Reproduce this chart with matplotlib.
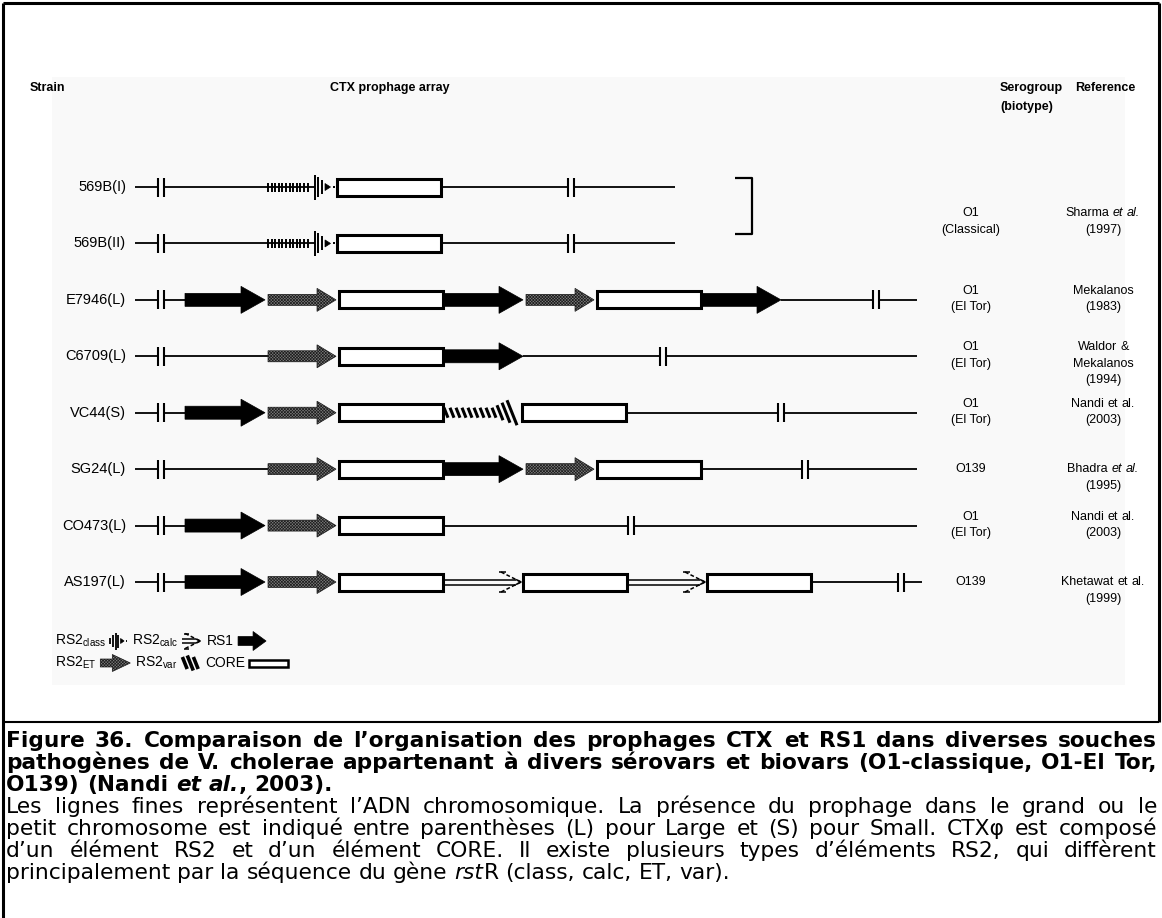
import matplotlib
matplotlib.use('Agg')
import matplotlib.pyplot as plt
from matplotlib.patches import Polygon, Rectangle

plt.rcParams['hatch.linewidth'] = 0.5
plt.rcParams['mathtext.fontset'] = 'custom'
plt.rcParams['mathtext.rm'] = 'Liberation Sans'
plt.rcParams['mathtext.it'] = 'Liberation Sans:italic'
plt.rcParams['mathtext.bf'] = 'Liberation Sans:bold'

HELV = ['Liberation Sans', 'DejaVu Sans']
WIDE = ['DejaVu Sans']

# strains and their CTX prophage arrays ('-' = empty slot, plain chromosome)
strains = ['569B(I)', '569B(II)', 'E7946(L)', 'C6709(L)', 'VC44(S)', 'SG24(L)', 'CO473(L)', 'AS197(L)']
arrays = [
    ['-', 'RS2class', 'CORE'],
    ['-', 'RS2class', 'CORE'],
    ['RS1', 'RS2ET', 'CORE', 'RS1', 'RS2ET', 'CORE', 'RS1'],
    ['-', 'RS2ET', 'CORE', 'RS1'],
    ['RS1', 'RS2ET', 'CORE', 'RS2var', 'CORE'],
    ['-', 'RS2ET', 'CORE', 'RS1', 'RS2ET', 'CORE'],
    ['RS1', 'RS2ET', 'CORE'],
    ['RS1', 'RS2ET', 'CORE', 'RS2calc', 'CORE', 'RS2calc', 'CORE'],
]
elem_len = {'-': 83, 'RS1': 83, 'RS2ET': 71, 'RS2class': 69, 'RS2var': 79, 'RS2calc': 80, 'CORE': 104}
right_break = [568, 568, 873, 660, 778, 802, 628, 898]
chrom_end = [675, 675, 917, 917, 917, 917, 917, 922]

span = [2, 0, 1, 1, 1, 1, 1, 1]
serogroup = ['O1\n(Classical)', None, 'O1\n(El Tor)', 'O1\n(El Tor)', 'O1\n(El Tor)',
             'O139', 'O1\n(El Tor)', 'O139']
references = [
    [[('Sharma ', 'n'), ('et al.', 'i')], [('(1997)', 'n')]],
    None,
    [[('Mekalanos', 'n')], [('(1983)', 'n')]],
    [[('Waldor &', 'n')], [('Mekalanos', 'n')], [('(1994)', 'n')]],
    [[('Nandi et al.', 'n')], [('(2003)', 'n')]],
    [[('Bhadra ', 'n'), ('et al.', 'i')], [('(1995)', 'n')]],
    [[('Nandi et al.', 'n')], [('(2003)', 'n')]],
    [[('Khetawat et al.', 'n')], [('(1999)', 'n')]],
]

legend_rows = [
    [('RS2', 'class', 'RS2class'), ('RS2', 'calc', 'RS2calc'), ('RS1', None, 'RS1')],
    [('RS2', 'ET', 'RS2ET'), ('RS2', 'var', 'RS2var'), ('CORE', None, 'CORE')],
]

caption = [
    ([('Figure 36. Comparaison de l’organisation des prophages CTX et RS1 dans diverses souches', 'b')], True),
    ([('pathogènes de V. cholerae appartenant à divers sérovars et biovars (O1-classique, O1-El Tor,', 'b')], True),
    ([('O139) (Nandi ', 'b'), ('et al.', 'bi'), (', 2003).', 'b')], False),
    ([('Les lignes fines représentent l’ADN chromosomique. La présence du prophage dans le grand ou le', 'n')], True),
    ([('petit chromosome est indiqué entre parenthèses (L) pour Large et (S) pour Small. CTXφ est composé', 'n')], True),
    ([('d’un élément RS2 et d’un élément CORE. Il existe plusieurs types d’éléments RS2, qui diffèrent', 'n')], True),
    ([('principalement par la séquence du gène ', 'n'), ('rst', 'i'), ('R (class, calc, ET, var).', 'n')], False),
]

STY = {'n': dict(fontweight='normal', fontstyle='normal'),
       'b': dict(fontweight='bold', fontstyle='normal'),
       'i': dict(fontweight='normal', fontstyle='italic'),
       'bi': dict(fontweight='bold', fontstyle='italic')}

fig = plt.figure(figsize=(11.62, 9.18), dpi=100)
ax = fig.add_axes([0, 0, 1, 1])
ax.set_xlim(0, 1162)
ax.set_ylim(918, 0)
ax.axis('off')
rend = fig.canvas.get_renderer()


def seg(xs, ys, lw=1.3, z=2, **kw):
    ax.plot(xs, ys, color='k', lw=lw, solid_capstyle='butt', zorder=z, **kw)


def measure(s, size, fam, sty):
    t = ax.text(0, 0, s, fontsize=size, family=fam, **STY[sty])
    w = t.get_window_extent(renderer=rend).width
    t.remove()
    return w


def to_words(segments):
    words = [[]]
    for text, sty in segments:
        for k, p in enumerate(text.split(' ')):
            if k > 0:
                words.append([])
            if p:
                words[-1].append((p, sty))
    return [w for w in words if w]


def space_w(size, fam, sty):
    return measure('a a', size, fam, sty) - measure('aa', size, fam, sty)


def natural(segments, size, fam):
    words = to_words(segments)
    tot = sum(measure(p, size, fam, s) for w in words for p, s in w)
    return tot + space_w(size, fam, segments[0][1]) * (len(words) - 1)


def put_line(segments, x, y, size, fam, mode='left', x_right=None, va='center'):
    words = to_words(segments)
    widths = [[measure(p, size, fam, s) for p, s in w] for w in words]
    total = sum(sum(ws) for ws in widths)
    gap = space_w(size, fam, segments[0][1])
    if mode == 'justify' and len(words) > 1:
        gap = (x_right - x - total) / (len(words) - 1)
    if mode == 'center':
        x = x - (total + gap * (len(words) - 1)) / 2
    for w, ws in zip(words, widths):
        for (p, s), pw in zip(w, ws):
            ax.text(x, y, p, fontsize=size, family=fam, va=va, ha='left', **STY[s])
            x += pw
        x += gap


# ---- glyphs ----
def arrow(x0, x1, y, sh, hh, head, **kw):
    xh = x1 - head
    pts = [(x0, y - sh), (xh, y - sh), (xh, y - hh), (x1, y),
           (xh, y + hh), (xh, y + sh), (x0, y + sh)]
    ax.add_patch(Polygon(pts, closed=True, zorder=3, **kw))


ET_STYLE = dict(fc='#7c7c7c', ec='#1e1e1e', lw=0.5, hatch='x' * 11)


def rs1(x0, x1, y):
    arrow(x0, x1 - 3, y, 6.5, 13.5, 24, fc='k', ec='k', lw=0.5)


def rs2et(x0, x1, y):
    arrow(x0, x1 - 3, y, 5.5, 11.5, 19, **ET_STYLE)


def core(x0, x1, y, h=17, lw=2.2):
    ax.add_patch(Rectangle((x0, y - h / 2), x1 - x0, h, fc='white', ec='k', lw=lw, zorder=3))


def rs2class(x0, y, ticks, tri, dot, lw=1.2):
    for dx, h in ticks:
        seg([x0 + dx, x0 + dx], [y - h, y + h], lw=lw, z=3)
    a, b, h = tri
    ax.add_patch(Polygon([(x0 + a, y - h), (x0 + b, y), (x0 + a, y + h)],
                         closed=True, fc='k', ec='k', lw=0.5, zorder=3))
    seg([x0 + dot, x0 + dot + 1.5], [y, y], lw=lw, z=3)


def rs2var(x0, y, hs, step=6, lw=2.2):
    for j, h in enumerate(hs):
        xx = x0 + 3 + j * step
        seg([xx - 0.4 * h, xx + 0.4 * h], [y - h, y + h], lw=lw, z=3)


def rs2calc(x0, x1, y, k=1.0):
    tip = x1 - 2
    d = 2.5 * k
    seg([x0, tip - 5 * k], [y - d, y - d], lw=1.1)
    seg([x0, tip - 5 * k], [y + d, y + d], lw=1.1)
    seg([tip - 5 * k, tip, tip - 5 * k], [y - d, y, y + d], lw=1.1)
    hl = 20 * k
    for s in (-1, 1):
        seg([tip - hl, tip], [y + s * 10 * k, y], lw=1.1, ls=(0, (2.5, 1.5)))
        seg([tip - hl - 2 * k, tip - hl + 5 * k], [y + s * 10 * k, y + s * 10 * k], lw=1.1)


def draw_elem(e, x0, x1, y):
    if e == 'RS1':
        rs1(x0, x1, y)
    elif e == 'RS2ET':
        rs2et(x0, x1, y)
    elif e == 'CORE':
        core(x0, x1, y)
    elif e == 'RS2class':
        seg([x0, x0 + 47], [y, y])
        rs2class(x0, y, [(j * 3.6, 4.5) for j in range(12)] + [(46.5, 12.5), (50, 10), (53.5, 7)],
                 (57, 62.5, 3.5), 65, lw=1.4)
    elif e == 'RS2var':
        rs2var(x0, y, [5] * 9 + [7.5, 10, 12.5])
    elif e == 'RS2calc':
        rs2calc(x0, x1, y)


def hline(xa, xb, y, breaks):
    pts = [xa]
    for b in breaks:
        if xa < b < xb:
            pts += [b, b + 6]
    pts.append(xb)
    for k in range(0, len(pts), 2):
        seg([pts[k], pts[k + 1]], [y, y])


def brk(x, y):
    seg([x, x], [y - 9.5, y + 9.5], lw=1.5, z=3)
    seg([x + 6, x + 6], [y - 9.5, y + 9.5], lw=1.5, z=3)


# ---- frame and background ----
ax.add_patch(Rectangle((52, 77), 1073, 608, fc='#f9f9f9', ec='none', zorder=0))
seg([3, 3], [918, 3], lw=2.2)
seg([3, 1159], [3, 3], lw=2.2)
seg([1159, 1159], [3, 722], lw=2.2)
seg([3, 1159], [722, 722], lw=1.5)

# ---- headers ----
hdr = dict(fontsize=9, fontweight='bold', family=HELV, va='center')
ax.text(30, 88, 'Strain', **hdr)
ax.text(390, 88, 'CTX prophage array', ha='center', **hdr)
ax.text(1000, 88, 'Serogroup', **hdr)
ax.text(1000, 107, '(biotype)', **hdr)
ax.text(1075, 88, 'Reference', **hdr)

# ---- rows ----
x_start, x_flank, x_first = 135, 158, 185
row_step = 56.43
row_y = [187 + i * row_step for i in range(len(strains))]

for i, (name, arr) in enumerate(zip(strains, arrays)):
    y = row_y[i]
    ax.text(126, y, name, fontsize=10.5, family=HELV, ha='right', va='center')
    x = x_first
    first = last = None
    for e in arr:
        L = elem_len[e]
        if e != '-':
            draw_elem(e, x, x + L, y)
            first = x if first is None else first
            last = x + L
        x += L
    breaks = [x_flank, right_break[i]]
    hline(x_start, first, y, breaks)
    hline(last - (3 if arr[-1] == 'RS1' else 0), chrom_end[i], y, breaks)
    for b in breaks:
        brk(b, y)

# bracket for the two 569B copies
seg([735, 752, 752, 735], [row_y[0] - 9, row_y[0] - 9, row_y[1] - 9, row_y[1] - 9], lw=1.6)

# ---- serogroup / reference columns ----
x_sero, x_ref, lh = 971, 1103, 16.5
for i in range(len(strains)):
    if serogroup[i] is None:
        continue
    if span[i] == 2:
        top = (row_y[i] + row_y[i + 1]) / 2 - 2
    else:
        top = row_y[i] if serogroup[i] == 'O139' else row_y[i] - 9
    for k, line in enumerate(serogroup[i].split('\n')):
        ax.text(x_sero, top + k * lh, line, fontsize=9, family=HELV, ha='center', va='center')
    for k, line in enumerate(references[i]):
        put_line(line, x_ref, top + k * lh, 9, HELV, mode='center')

# ---- legend ----
legend_w = {'RS2class': 17, 'RS2calc': 20, 'RS1': 28, 'RS2ET': 30, 'RS2var': 18, 'CORE': 39}
for row, ly in zip(legend_rows, (641, 663)):
    x = 55
    for main, sub, key in row:
        s = main if sub is None else main + r'$_{\mathregular{' + sub + '}}$'
        t = ax.text(x, ly, s, fontsize=10, family=HELV, va='center', ha='left')
        x += t.get_window_extent(renderer=rend).width + 4
        gw = legend_w[key]
        if key == 'RS1':
            arrow(x, x + gw, ly, 4.5, 9.5, 13, fc='k', ec='k', lw=0.5)
        elif key == 'RS2ET':
            arrow(x, x + gw, ly, 4, 8.5, 18, **ET_STYLE)
        elif key == 'CORE':
            core(x, x + gw, ly, h=7, lw=1.8)
        elif key == 'RS2class':
            rs2class(x, ly, [(0, 3), (3, 6), (5.5, 8.5), (8, 6.5)], (10.5, 14, 2.5), 15.5, lw=1.3)
        elif key == 'RS2var':
            rs2var(x, ly, [6, 7.5, 6], step=5.5, lw=2.6)
        elif key == 'RS2calc':
            rs2calc(x, x + gw, ly, k=0.75)
        x += gw + 5

# ---- caption (justified) ----
cap_left, cap_right = 6, 1157
sizes = {}
for group in ('b', 'n'):
    fits = [14 * (cap_right - cap_left) / natural(segs, 14, WIDE)
            for segs, just in caption if just and segs[0][1] == group]
    sizes[group] = min(fits) * (0.99 if group == 'b' else 0.96)
for j, (segments, justify) in enumerate(caption):
    put_line(segments, cap_left, 747 + j * 22, sizes[segments[0][1]], WIDE,
             mode='justify' if justify else 'left', x_right=cap_right, va='baseline')

fig.savefig('out.png', dpi=100)
